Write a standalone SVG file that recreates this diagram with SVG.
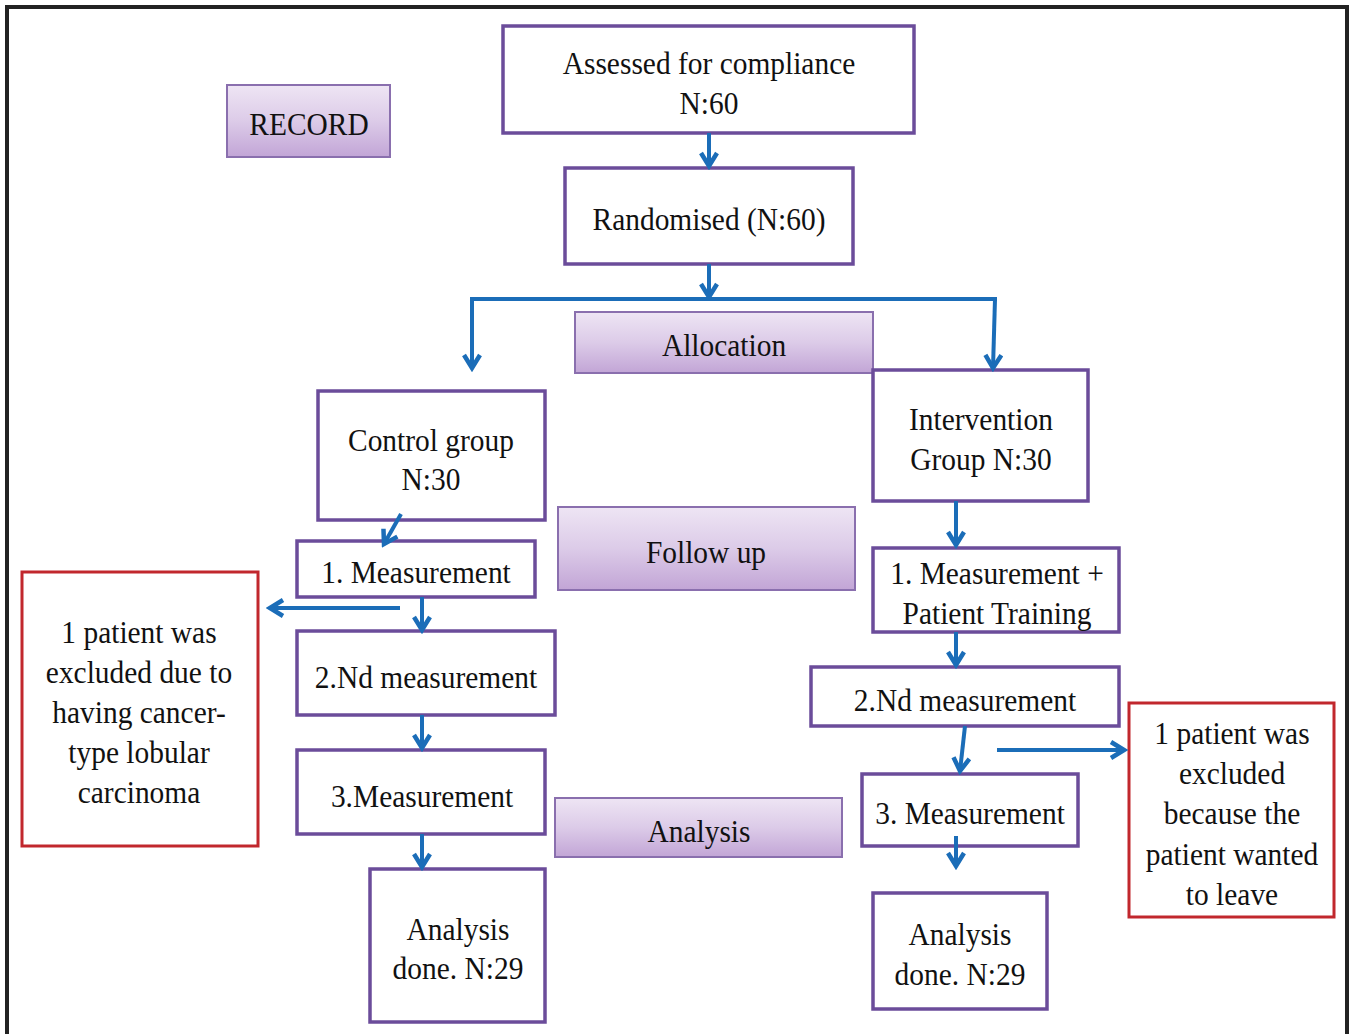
<svg xmlns="http://www.w3.org/2000/svg" width="1352" height="1034" viewBox="0 0 1352 1034">
<style>
.box{fill:#fff;stroke:#6B4C9A;stroke-width:3.5}
.lbl{fill:url(#pg);stroke:#8A6FAE;stroke-width:2}
.red{fill:#fff;stroke:#C1272D;stroke-width:3}
.t{font-family:"Liberation Serif","Times New Roman",serif;font-size:32px;fill:#111;text-anchor:middle;transform-box:fill-box;transform-origin:center;transform:scaleX(0.92)}
.c{fill:none;stroke:#1B6DB8;stroke-width:4}
</style>
<defs>
<linearGradient id="pg" x1="0" y1="0" x2="0" y2="1">
<stop offset="0" stop-color="#EEE5F4"/>
<stop offset="0.5" stop-color="#DCCBE8"/>
<stop offset="1" stop-color="#C2A5D6"/>
</linearGradient>
<marker id="ah" viewBox="-16 -10 20 20" refX="0" refY="0" markerWidth="20" markerHeight="20" markerUnits="userSpaceOnUse" orient="auto">
<path d="M-13,-8 L0,0 L-13,8" fill="none" stroke="#1B6DB8" stroke-width="4.5" stroke-linejoin="miter"/>
</marker>
</defs>
<rect width="1352" height="1034" fill="#fff"/>
<path d="M7,1034 V7 H1347 V1034" fill="none" stroke="#222" stroke-width="4"/>

<g id="record"><rect class="lbl" x="227" y="85" width="163" height="72"/><text class="t" x="309" y="135">RECORD</text></g>
<g id="assessed"><rect class="box" x="503" y="26" width="411" height="107"/><text class="t" x="709" y="74">Assessed for compliance</text><text class="t" x="709" y="114">N:60</text></g>
<g id="randomised"><rect class="box" x="565" y="168" width="288" height="96"/><text class="t" x="709" y="230">Randomised (N:60)</text></g>
<g id="allocation"><rect class="lbl" x="575" y="312" width="298" height="61"/><text class="t" x="724" y="356">Allocation</text></g>
<g id="control"><rect class="box" x="318" y="391" width="227" height="129"/><text class="t" x="431" y="451">Control group</text><text class="t" x="431" y="490">N:30</text></g>
<g id="intervention"><rect class="box" x="873" y="370" width="215" height="131"/><text class="t" x="981" y="430">Intervention</text><text class="t" x="981" y="470">Group N:30</text></g>
<g id="followup"><rect class="lbl" x="558" y="507" width="297" height="83"/><text class="t" x="706" y="563">Follow up</text></g>
<g id="c-m1"><rect class="box" x="297" y="541" width="238" height="56"/><text class="t" x="416" y="583">1. Measurement</text></g>
<g id="c-excl"><rect class="red" x="22" y="572" width="236" height="274"/><text class="t" x="139" y="643">1 patient was</text><text class="t" x="139" y="683">excluded due to</text><text class="t" x="139" y="723">having cancer-</text><text class="t" x="139" y="763">type lobular</text><text class="t" x="139" y="803">carcinoma</text></g>
<g id="c-m2"><rect class="box" x="297" y="631" width="258" height="84"/><text class="t" x="426" y="688">2.Nd measurement</text></g>
<g id="c-m3"><rect class="box" x="297" y="750" width="248" height="84"/><text class="t" x="422" y="807">3.Measurement</text></g>
<g id="c-an"><rect class="box" x="370" y="869" width="175" height="153"/><text class="t" x="458" y="940">Analysis</text><text class="t" x="458" y="979">done. N:29</text></g>
<g id="analysis"><rect class="lbl" x="555" y="798" width="287" height="59"/><text class="t" x="699" y="842">Analysis</text></g>
<g id="i-m1"><rect class="box" x="873" y="548" width="246" height="84"/><text class="t" x="997" y="584">1. Measurement +</text><text class="t" x="997" y="624">Patient Training</text></g>
<g id="i-m2"><rect class="box" x="811" y="667" width="308" height="59"/><text class="t" x="965" y="711">2.Nd measurement</text></g>
<g id="i-excl"><rect class="red" x="1129" y="703" width="205" height="214"/><text class="t" x="1232" y="744">1 patient was</text><text class="t" x="1232" y="784">excluded</text><text class="t" x="1232" y="824">because the</text><text class="t" x="1232" y="865">patient wanted</text><text class="t" x="1232" y="905">to leave</text></g>
<g id="i-m3"><rect class="box" x="862" y="774" width="216" height="72"/><text class="t" x="970" y="824">3. Measurement</text></g>
<g id="i-an"><rect class="box" x="873" y="893" width="174" height="116"/><text class="t" x="960" y="945">Analysis</text><text class="t" x="960" y="985">done. N:29</text></g>

<g id="connectors">
<line class="c" x1="709" y1="133" x2="709" y2="166" marker-end="url(#ah)"/>
<line class="c" x1="709" y1="264" x2="709" y2="297" marker-end="url(#ah)"/>
<line class="c" x1="470" y1="299" x2="997" y2="299"/>
<line class="c" x1="472" y1="299" x2="472" y2="368" marker-end="url(#ah)"/>
<line class="c" x1="995" y1="299" x2="993" y2="368" marker-end="url(#ah)"/>
<line class="c" x1="401" y1="514" x2="384" y2="544" marker-end="url(#ah)"/>
<line class="c" x1="400" y1="608" x2="270" y2="608" marker-end="url(#ah)"/>
<line class="c" x1="422" y1="597" x2="422" y2="630" marker-end="url(#ah)"/>
<line class="c" x1="422" y1="715" x2="422" y2="748" marker-end="url(#ah)"/>
<line class="c" x1="422" y1="834" x2="422" y2="867" marker-end="url(#ah)"/>
<line class="c" x1="956" y1="501" x2="956" y2="545" marker-end="url(#ah)"/>
<line class="c" x1="956" y1="632" x2="956" y2="665" marker-end="url(#ah)"/>
<line class="c" x1="965" y1="726" x2="960" y2="771" marker-end="url(#ah)"/>
<line class="c" x1="997" y1="750" x2="1124" y2="750" stroke-width="5" marker-end="url(#ah)"/>
<line class="c" x1="956" y1="836" x2="956" y2="866" marker-end="url(#ah)"/>
</g>
</svg>
